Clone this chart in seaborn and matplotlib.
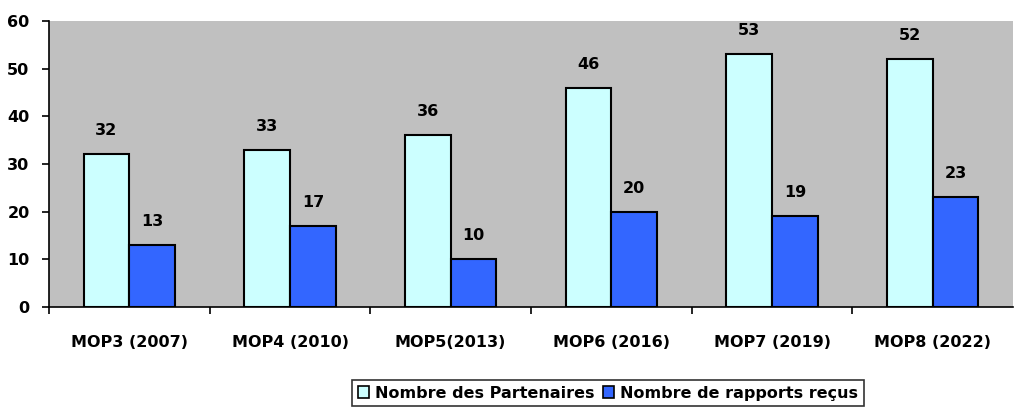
import matplotlib
matplotlib.use("Agg")
import matplotlib.pyplot as plt
from matplotlib.patches import Patch
import seaborn as sns
import pandas as pd

categories = ["MOP3 (2007)", "MOP4 (2010)", "MOP5(2013)", "MOP6 (2016)", "MOP7 (2019)", "MOP8 (2022)"]
partenaires = [32, 33, 36, 46, 53, 52]
rapports = [13, 17, 10, 20, 19, 23]
series_names = ["Nombre des Partenaires", "Nombre de rapports reçus"]
colors = ["#CCFFFF", "#3366FF"]

sns.set_theme(style="white")
plt.rcParams["font.family"] = ["DejaVu Sans"]
plt.rcParams["font.weight"] = "bold"
plt.rcParams["text.color"] = "black"
plt.rcParams["xtick.color"] = "black"
plt.rcParams["ytick.color"] = "black"
plt.rcParams["xtick.labelcolor"] = "black"
plt.rcParams["ytick.labelcolor"] = "black"

df = pd.DataFrame({
    "cat": categories * 2,
    "val": partenaires + rapports,
    "series": [series_names[0]] * len(categories) + [series_names[1]] * len(categories),
})

W, H = 1014, 417
fig = plt.figure(figsize=(W / 100, H / 100), dpi=100)
ax = fig.add_axes([49 / W, 1 - 307 / H, (W - 50) / W, 286 / H])
ax.set_facecolor("#C0C0C0")

sns.barplot(data=df, x="cat", y="val", hue="series", palette=colors, width=0.57,
            saturation=1, edgecolor="black", linewidth=1.5, ax=ax, legend=False, gap=0)

ax.set_ylim(0, 60)
ax.set_xlim(-0.5, len(categories) - 0.5)
ax.set_xlabel("")
ax.set_ylabel("")
for s in ["top", "right"]:
    ax.spines[s].set_visible(False)
for s in ["left", "bottom"]:
    ax.spines[s].set_color("black")
    ax.spines[s].set_linewidth(1.2)

fs = 11.5
ax.set_yticks(range(0, 61, 10))
ax.set_yticklabels([str(v) for v in range(0, 61, 10)], fontsize=fs, fontweight="bold", color="black")
ax.tick_params(axis="y", direction="out", length=5, width=1.2, color="black", pad=9, left=True)

ax.set_xticks([i - 0.5 for i in range(len(categories))])
ax.set_xticklabels([])
ax.tick_params(axis="x", which="major", direction="out", length=5, width=1.2, color="black", bottom=True)
ax.set_xticks(range(len(categories)), minor=True)
ax.set_xticklabels(categories, minor=True, fontsize=fs, fontweight="bold", color="black")
ax.tick_params(axis="x", which="minor", length=0, pad=20)

for container in ax.containers:
    for bar in container:
        h = bar.get_height()
        ax.annotate(f"{h:.0f}", (bar.get_x() + bar.get_width() / 2, h),
                    xytext=(0, 17), textcoords="offset points",
                    ha="center", va="center", fontsize=fs, fontweight="bold", color="black")

handles = [Patch(facecolor=c, edgecolor="black", linewidth=1.2) for c in colors]
leg = fig.legend(handles, series_names, loc="upper left",
                 bbox_to_anchor=(352 / W, 1 - 380 / H), ncol=2, frameon=True,
                 fancybox=False, edgecolor="black", fontsize=fs,
                 handlelength=0.7, handleheight=0.7, handletextpad=0.4,
                 columnspacing=0.5, borderpad=0.35, borderaxespad=0)
leg.get_frame().set_linewidth(1.2)
for t in leg.get_texts():
    t.set_fontweight("bold")
    t.set_color("black")

fig.savefig("out.png", dpi=100)
